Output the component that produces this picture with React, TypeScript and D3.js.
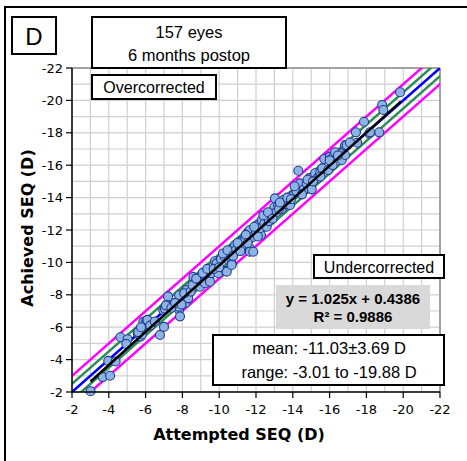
import React from "react";
import * as d3 from "d3";

const attempted: number[] = [
  -3.01, -3.67, -4.07, -3.97, -4.37, -4.63, -5.02, -4.95, -5.57, -5.72,
  -5.8, -5.88, -6.04, -6.06, -5.98, -6.2, -6.78, -7.0, -6.96, -7.22,
  -7.18, -7.33, -7.51, -7.82, -7.78, -7.87, -7.82, -8.18, -8.32, -8.23,
  -8.32, -8.6, -8.68, -8.96, -8.8, -9.0, -9.23, -9.23, -9.45, -9.5,
  -9.6, -9.77, -9.86, -9.86, -9.95, -10.1, -10.37, -10.41, -10.3, -10.5,
  -10.68, -10.68, -10.6, -10.86, -10.9, -11.1, -11.2, -11.4, -11.3, -11.58,
  -11.67, -11.67, -11.85, -11.67, -11.8, -12.0, -12.05, -12.27, -12.31, -12.2,
  -12.45, -12.58, -12.58, -12.7, -12.85, -12.99, -13.03, -13.21, -13.1, -13.4,
  -13.49, -13.6, -13.85, -14.03, -14.3, -14.39, -14.2, -14.6, -14.75, -15.03,
  -14.9, -15.21, -15.35, -15.48, -15.6, -15.71, -15.93, -16.02, -16.17, -16.17,
  -16.3, -16.66, -16.66, -16.84, -16.84, -16.93, -17.43, -17.5, -17.87, -18.16,
  -18.2, -18.7, -18.86, -18.92, -19.83, -5.6, -5.75, -6.1, -6.25, -6.5,
  -7.05, -7.1, -7.4, -7.6, -7.95, -8.1, -8.45, -8.55, -8.75, -9.1,
  -9.35, -9.7, -10.0, -10.2, -10.45, -10.75, -11.0, -11.15, -11.45, -11.55,
  -11.9, -12.1, -12.4, -12.65, -12.9, -13.25, -13.3, -13.7, -13.9, -14.1,
  -14.5, -14.8, -15.1, -15.5, -16.0, -16.45, -17.1,
];

const achieved: number[] = [
  -2.05, -2.92, -3.0, -3.92, -3.88, -5.38, -5.26, -4.96, -5.62, -5.42,
  -5.55, -6.34, -6.4, -6.24, -6.12, -6.3, -5.52, -6.02, -7.06, -7.9,
  -7.25, -7.3, -7.37, -7.06, -7.27, -6.67, -7.97, -7.51, -8.03, -8.3,
  -7.78, -9.1, -8.71, -8.5, -8.85, -9.05, -8.71, -9.2, -9.1, -8.81,
  -9.35, -10.07, -9.76, -9.94, -9.33, -10.2, -9.47, -9.43, -10.35, -10.15,
  -9.94, -9.84, -10.6, -11.07, -10.75, -10.95, -11.3, -11.38, -10.9, -11.89,
  -10.86, -10.66, -10.66, -12.0, -11.55, -11.9, -12.3, -11.69, -12.62, -12.1,
  -12.4, -12.82, -12.2, -12.55, -12.93, -13.4, -13.95, -13.54, -13.1, -13.3,
  -13.85, -13.6, -13.54, -14.14, -15.66, -14.88, -14.4, -14.5, -14.88, -14.51,
  -15.2, -15.5, -15.2, -15.5, -15.8, -16.38, -15.7, -16.53, -16.01, -16.49,
  -16.8, -16.32, -16.73, -17.25, -16.63, -17.25, -18.03, -17.39, -18.68, -17.96,
  -18.03, -18.03, -19.72, -19.41, -20.5, -5.7, -6.0, -6.45, -6.1, -6.35,
  -7.15, -7.35, -7.2, -7.5, -7.4, -8.1, -8.2, -8.6, -9.0, -9.35,
  -9.6, -9.6, -9.7, -10.55, -10.75, -10.4, -11.2, -10.7, -11.7, -11.2,
  -12.2, -11.6, -12.9, -13.1, -12.7, -13.3, -13.7, -14.0, -13.9, -14.7,
  -14.2, -15.1, -15.0, -15.3, -16.3, -16.6, -17.4,
];

const axisTicks: number[] = [-2, -4, -6, -8, -10, -12, -14, -16, -18, -20, -22];
const gridValues: number[] = d3.range(-2, -23, -1);
const slope = 1.025;
const intercept = 0.4386;
const regressionRange: number[] = [-3.01, -19.88];
const bandOffsets: { off: number; color: string }[] = [
  { off: 1, color: "#ff00ff" },
  { off: -1, color: "#ff00ff" },
  { off: 0.5, color: "#2e8b57" },
  { off: -0.5, color: "#2e8b57" },
  { off: 0, color: "#0000ff" },
];

const L = 72, R = 440, T = 68, B = 392;

export default function App() {
  const x = d3.scaleLinear().domain([-2, -22]).range([L, R]);
  const y = d3.scaleLinear().domain([-2, -22]).range([B, T]);
  const line = d3.line<[number, number]>().x((d) => x(d[0])).y((d) => y(d[1]));
  const pts = attempted.map((a, i) => [a, achieved[i]] as [number, number]);
  const tickFont = "'DejaVu Sans', Verdana, sans-serif";
  const boxFont = "'Liberation Sans', Arial, sans-serif";

  return (
    <svg width={467} height={461} style={{ position: "absolute", left: 0, top: 0, background: "#fff" }}>
      <defs>
        <clipPath id="plotclip">
          <rect x={L} y={T} width={R - L} height={B - T} />
        </clipPath>
      </defs>
      <rect x={0} y={0} width={467} height={461} fill="#fff" />
      <rect x={5} y={7} width={520} height={520} fill="none" stroke="#000" strokeWidth={2} />
      {/* grid */}
      {gridValues.map((v) => (
        <line key={"gx" + v} x1={x(v)} x2={x(v)} y1={T} y2={B} stroke="#cfcfcf" strokeWidth={1.2} />
      ))}
      {gridValues.map((v) => (
        <line key={"gy" + v} x1={L} x2={R} y1={y(v)} y2={y(v)} stroke="#cfcfcf" strokeWidth={1.2} />
      ))}
      <line x1={L} x2={R} y1={T} y2={T} stroke="#8c8c8c" strokeWidth={1.5} />
      <line x1={R} x2={R} y1={T} y2={B} stroke="#8c8c8c" strokeWidth={1.5} />
      {/* reference lines */}
      <g clipPath="url(#plotclip)">
        {bandOffsets.map((b, i) => (
          <path
            key={"b" + i}
            d={line([[-1, -1 - b.off], [-23, -23 - b.off]]) || ""}
            stroke={b.color}
            strokeWidth={2.5}
            fill="none"
          />
        ))}
      </g>
      {/* points */}
      {pts.map((p, i) => (
        <circle key={"p" + i} cx={x(p[0])} cy={y(p[1])} r={4.5} fill="#8db3e2" stroke="#1f3a93" strokeWidth={1.1} />
      ))}
      <path
        d={line(regressionRange.map((v) => [v, slope * v + intercept] as [number, number])) || ""}
        stroke="#000"
        strokeWidth={2.5}
        fill="none"
      />
      {/* axes */}
      <line x1={L} x2={L} y1={T} y2={B + 0.5} stroke="#000" strokeWidth={1.5} />
      <line x1={L} x2={R} y1={B} y2={B} stroke="#000" strokeWidth={1.5} />
      {axisTicks.map((v) => (
        <g key={"ty" + v}>
          <line x1={L - 6} x2={L} y1={y(v)} y2={y(v)} stroke="#000" strokeWidth={1.2} />
          <text x={L - 9} y={y(v)} dy="0.36em" textAnchor="end" fontFamily={tickFont} fontSize={13} fill="#000">
            {v}
          </text>
        </g>
      ))}
      {axisTicks.map((v) => (
        <g key={"tx" + v}>
          <line x1={x(v)} x2={x(v)} y1={B} y2={B + 6} stroke="#000" strokeWidth={1.2} />
          <text x={x(v)} y={414} textAnchor="middle" fontFamily={tickFont} fontSize={13} fill="#000">
            {v}
          </text>
        </g>
      ))}
      <text x={239} y={440} textAnchor="middle" fontFamily={tickFont} fontWeight="bold" fontSize={16} fill="#000">
        Attempted SEQ (D)
      </text>
      <text
        transform="translate(33,228) rotate(-90)"
        textAnchor="middle"
        fontFamily={tickFont}
        fontWeight="bold"
        fontSize={16}
        fill="#000"
      >
        Achieved SEQ (D)
      </text>
      {/* boxes */}
      <rect x={12} y={17} width={44} height={37} fill="#fff" stroke="#000" strokeWidth={2} />
      <text x={34} y={45} textAnchor="middle" fontFamily={boxFont} fontSize={24} fill="#000">
        D
      </text>
      <rect x={92} y={17} width={194} height={51} fill="#fff" stroke="#000" strokeWidth={2} />
      <text x={189} y={38} textAnchor="middle" fontFamily={boxFont} fontSize={16.5} fill="#000">
        157 eyes
      </text>
      <text x={189} y={61} textAnchor="middle" fontFamily={boxFont} fontSize={16.5} fill="#000">
        6 months postop
      </text>
      <rect x={92} y={75} width={124} height={24} fill="#fff" stroke="#000" strokeWidth={2} />
      <text x={154} y={93} textAnchor="middle" fontFamily={boxFont} fontSize={16} fill="#000">
        Overcorrected
      </text>
      <rect x={314} y={255} width={130} height={23} fill="#fff" stroke="#000" strokeWidth={2} />
      <text x={379} y={273} textAnchor="middle" fontFamily={boxFont} fontSize={16} fill="#000">
        Undercorrected
      </text>
      <rect x={276} y={285} width={154} height={44} fill="#d9d9d9" />
      <text x={353} y={304} textAnchor="middle" fontFamily={boxFont} fontWeight="bold" fontSize={15} fill="#000">
        y = 1.025x + 0.4386
      </text>
      <text x={353} y={322} textAnchor="middle" fontFamily={boxFont} fontWeight="bold" fontSize={15} fill="#000">
        R² = 0.9886
      </text>
      <rect x={213} y={335} width={231} height={50} fill="#fff" stroke="#000" strokeWidth={2} />
      <text x={329} y={354} textAnchor="middle" fontFamily={boxFont} fontSize={16.5} fill="#000">
        mean: -11.03±3.69 D
      </text>
      <text x={329} y={378} textAnchor="middle" fontFamily={boxFont} fontSize={16.5} fill="#000">
        range: -3.01 to -19.88 D
      </text>
    </svg>
  );
}
